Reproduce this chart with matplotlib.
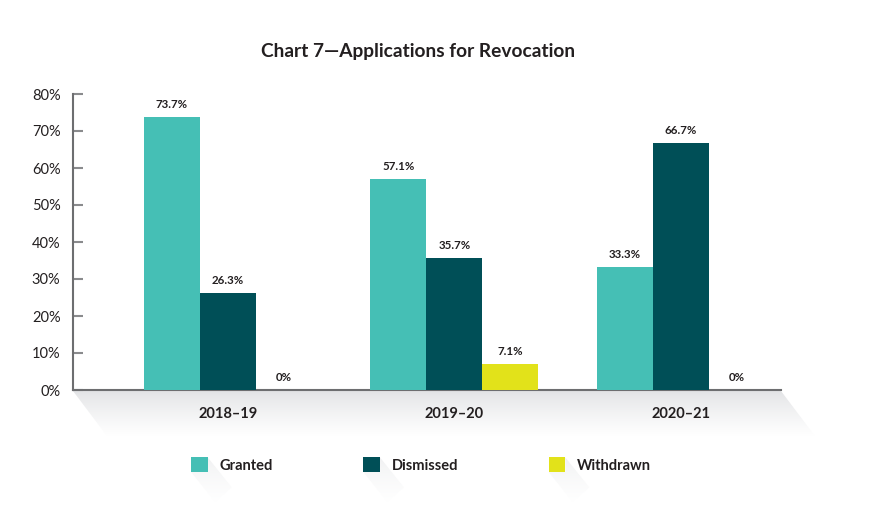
import numpy as np
import matplotlib
matplotlib.use("Agg")
import matplotlib.pyplot as plt
from matplotlib.patches import Polygon, Patch

plt.rcParams["font.family"] = ["Lato", "DejaVu Sans"]

YEARS = ["2018\u201319", "2019\u201320", "2020\u201321"]
SERIES = ["Granted", "Dismissed", "Withdrawn"]
GRANTED = [73.7, 57.1, 33.3]
DISMISSED = [26.3, 35.7, 66.7]
WITHDRAWN = [0.0, 7.1, 0.0]
COLORS = ["#45bfb5", "#004f57", "#e2e21a"]
TEXT = "#231f20"
W, H = 872, 515


def shadow(bg, verts, y0, y1, top="#e2e3e5", power=0.8):
    # vertical gradient from top colour to white, clipped to a polygon (pixel coords)
    grad = np.linspace(0, 1, 256).reshape(-1, 1)
    c0 = np.array(matplotlib.colors.to_rgb(top))
    img = c0 + (1 - c0) * grad[..., None] ** power
    img = np.repeat(img, 2, axis=1)
    xs = [v[0] for v in verts]
    im = bg.imshow(img, extent=(min(xs), max(xs), y1, y0), aspect="auto", zorder=0)
    poly = Polygon(verts, closed=True, transform=bg.transData, facecolor="none", edgecolor="none")
    bg.add_patch(poly)
    im.set_clip_path(poly)


def main():
    fig = plt.figure(figsize=(W / 100, H / 100), dpi=100)

    bg = fig.add_axes([0, 0, 1, 1], zorder=-1)
    bg.set_xlim(0, W)
    bg.set_ylim(H, 0)
    bg.axis("off")

    ax = fig.add_axes([73 / W, 1 - 390 / H, (781 - 73) / W, (390 - 94) / H])
    ax.set_facecolor("none")

    x = np.arange(len(YEARS))
    width = 0.247
    values = [GRANTED, DISMISSED, WITHDRAWN]
    for i, (name, vals, col) in enumerate(zip(SERIES, values, COLORS)):
        bars = ax.bar(x + (i - 1) * width, vals, width, color=col, label=name, zorder=3)
        labels = [f"{v:g}%" for v in vals]
        ax.bar_label(bars, labels=labels, padding=5, fontsize=8.3, fontweight="bold", color=TEXT)

    ax.set_xlim(-0.684, 2.442)
    ax.set_ylim(0, 80)
    ax.set_yticks(range(0, 81, 10))
    ax.set_yticklabels([f"{t}%" for t in range(0, 81, 10)])
    ax.set_xticks(x)
    ax.set_xticklabels(YEARS, fontweight="bold")

    for s in ["top", "right"]:
        ax.spines[s].set_visible(False)
    for s in ["left", "bottom"]:
        ax.spines[s].set_color("#6d6e70")
        ax.spines[s].set_linewidth(1.5)
    ax.tick_params(axis="y", direction="in", length=7, width=1.5, color="#8a8b8d",
                   labelsize=10.5, labelcolor=TEXT, pad=9)
    ax.tick_params(axis="x", length=0, labelsize=10.5, labelcolor=TEXT, pad=12)

    fig.text(418 / W, 1 - 52 / H, "Chart 7\u2014Applications for Revocation",
             ha="center", va="center", fontsize=13.8, fontweight="bold", color=TEXT)

    # shadow under the category band
    shadow(bg, [(73, 391), (781, 391), (815, 436), (107, 436)], 391, 436)

    handles = [Patch(facecolor=c, edgecolor="none") for c in COLORS]
    leg = fig.legend(handles, SERIES, loc="center", bbox_to_anchor=(421 / W, 1 - 465 / H),
                     ncol=3, frameon=False, handlelength=1.15, handleheight=1.15,
                     handletextpad=0.8, columnspacing=6.2,
                     prop={"size": 10.5, "weight": "bold"})
    for t in leg.get_texts():
        t.set_color(TEXT)

    # faint long-shadows under the legend swatches
    fig.canvas.draw()
    for h in leg.legend_handles:
        bb = h.get_window_extent()
        x0, x1 = bb.x0, bb.x1
        ytop, ybot = H - bb.y1, H - bb.y0
        d = 24
        shadow(bg, [(x0, ybot), (x1, ybot), (x1, ytop), (x1 + d, ytop + d * 1.25),
                    (x0 + d, ybot + d * 1.25)], ytop, ybot + d * 1.25,
               top="#eeeff0", power=0.6)

    fig.savefig("out.png", dpi=100)


if __name__ == "__main__":
    main()
